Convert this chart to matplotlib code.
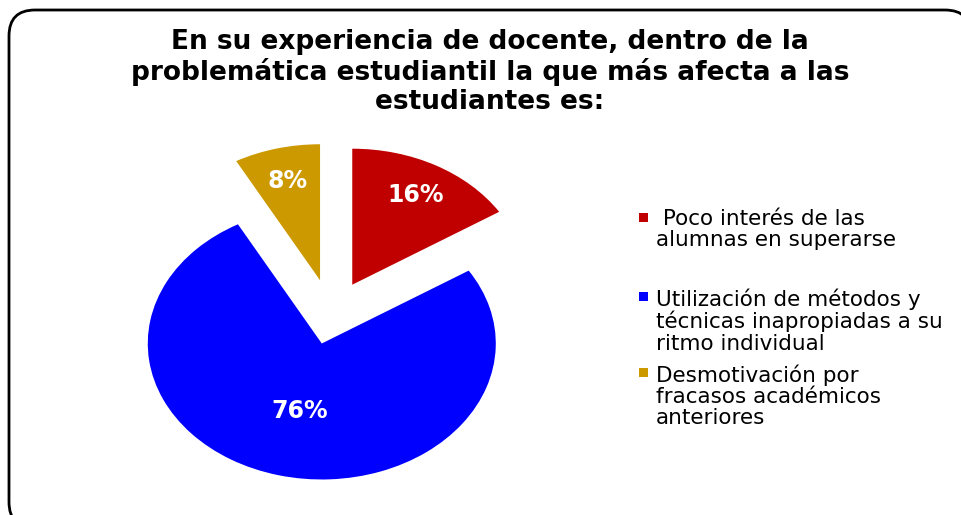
import numpy as np
import matplotlib
matplotlib.use("Agg")
import matplotlib.pyplot as plt
from matplotlib.patches import FancyBboxPatch, Rectangle

# datos de la encuesta
categorias = [" Poco interés de las\nalumnas en superarse",
              "Utilización de métodos y\ntécnicas inapropiadas a su\nritmo individual",
              "Desmotivación por\nfracasos académicos\nanteriores"]
porcentajes = [16, 76, 8]
colores = ["#C00000", "#0000FF", "#CC9900"]
titulo = ("En su experiencia de docente, dentro de la\n"
          "problemática estudiantil la que más afecta a las\n"
          "estudiantes es:")

W, H = 961, 515
fig = plt.figure(figsize=(W / 100, H / 100), dpi=100)

# capa de fondo en pixeles (marco, titulo, leyenda)
bg = fig.add_axes([0, 0, 1, 1])
bg.set_xlim(0, W)
bg.set_ylim(H, 0)
bg.axis("off")

marco = FancyBboxPatch((9, 10), 962, 518, boxstyle="round,pad=0,rounding_size=26",
                       fc="white", ec="black", lw=2)
bg.add_patch(marco)

bg.text(490, 29, titulo, ha="center", va="top", fontsize=19, fontweight="bold",
        family="DejaVu Sans", linespacing=1.15, color="black")

# leyenda
y_items = [209, 288, 364]
for y0, col, cat in zip(y_items, colores, categorias):
    bg.add_patch(Rectangle((639, y0 + 4), 9, 9, fc=col, ec="none"))
    bg.text(656, y0, cat, ha="left", va="top", fontsize=15.5, family="DejaVu Sans",
            linespacing=1.08, color="black")

# grafico de pastel (achatado en vertical)
R_x, R_y = 174, 136
cx, cy = 331.3, 314.5
lim = 1.6
ax = fig.add_axes([(cx - lim * R_x) / W, (H - cy - lim * R_y) / H,
                   2 * lim * R_x / W, 2 * lim * R_y / H])
wedges, _ = ax.pie(porcentajes, colors=colores, startangle=90, counterclock=False,
                   explode=[0.25, 0.22, 0.26], wedgeprops=dict(linewidth=0))
ax.set_aspect("auto")
ax.set_xlim(-lim, lim)
ax.set_ylim(-lim, lim)
ax.axis("off")

dist_etiqueta = [0.75, 0.51, 0.75]
for w, p, d in zip(wedges, porcentajes, dist_etiqueta):
    ang = np.deg2rad((w.theta1 + w.theta2) / 2)
    x = w.center[0] + d * w.r * np.cos(ang)
    y = w.center[1] + d * w.r * np.sin(ang)
    ax.text(x, y, f"{p}%", ha="center", va="center", color="white",
            fontsize=17, fontweight="bold", family="DejaVu Sans")

fig.savefig("out.png", dpi=100)
